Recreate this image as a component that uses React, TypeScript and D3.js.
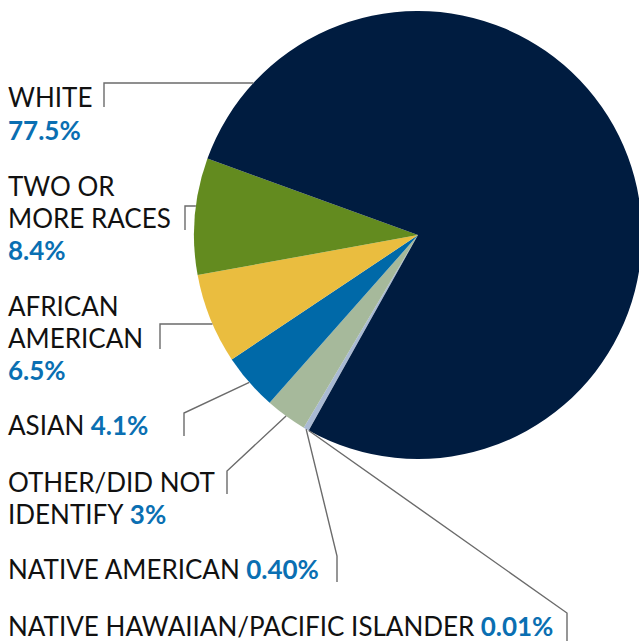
import React from "react";
import * as d3 from "d3";

const categories = [
  "NATIVE HAWAIIAN/PACIFIC ISLANDER",
  "NATIVE AMERICAN",
  "OTHER/DID NOT IDENTIFY",
  "ASIAN",
  "AFRICAN AMERICAN",
  "TWO OR MORE RACES",
  "WHITE",
];
const values = [0.01, 0.4, 3, 4.1, 6.5, 8.4, 77.5];
const valueLabels = ["0.01%", "0.40%", "3%", "4.1%", "6.5%", "8.4%", "77.5%"];
const colors = ["#f3e3a6", "#a9bad3", "#a6b99b", "#0069a8", "#eabd3f", "#638b1f", "#001c40"];

// label layout: text lines (last line gets the value appended or on own line)
type Layout = {
  lines: string[];
  valueOnOwnLine: boolean;
  baseline: number;
  elbowX: number;
  elbowY: number;
  endY: number;
  mode: "horizontal" | "centroid";
};
const layouts: Layout[] = [
  { lines: ["NATIVE HAWAIIAN/PACIFIC ISLANDER"], valueOnOwnLine: false, baseline: 636, elbowX: 567, elbowY: 613, endY: 641, mode: "centroid" },
  { lines: ["NATIVE AMERICAN"], valueOnOwnLine: false, baseline: 579, elbowX: 337, elbowY: 556, endY: 582, mode: "centroid" },
  { lines: ["OTHER/DID NOT", "IDENTIFY"], valueOnOwnLine: false, baseline: 492, elbowX: 227, elbowY: 471, endY: 494, mode: "centroid" },
  { lines: ["ASIAN"], valueOnOwnLine: false, baseline: 435, elbowX: 184, elbowY: 413, endY: 436, mode: "centroid" },
  { lines: ["AFRICAN", "AMERICAN"], valueOnOwnLine: true, baseline: 316, elbowX: 160, elbowY: 324, endY: 349, mode: "horizontal" },
  { lines: ["TWO OR", "MORE RACES"], valueOnOwnLine: true, baseline: 196, elbowX: 185, elbowY: 206, endY: 230, mode: "horizontal" },
  { lines: ["WHITE"], valueOnOwnLine: true, baseline: 107, elbowX: 104, elbowY: 83, endY: 107, mode: "horizontal" },
];

const W = 639;
const H = 641;
const cx = 418;
const cy = 235;
const R = 224;
const lineH = 31.5;
const startDeg = 209.2;

export default function App() {
  const pie = d3
    .pie<number>()
    .sort(null)
    .value((d) => d)
    .startAngle((startDeg * Math.PI) / 180)
    .endAngle(((startDeg + 360) * Math.PI) / 180);
  const arcs = pie(values);
  const arc = d3.arc<d3.PieArcDatum<number>>().innerRadius(0).outerRadius(R);

  const font = "Lato, 'Noto Sans', sans-serif";

  return (
    <svg
      width={W}
      height={H}
      style={{ position: "absolute", left: 0, top: 0, background: "#fff" }}
    >
      <g transform={`translate(${cx},${cy})`}>
        {arcs.map((a, i) => (
          <path key={i} d={arc(a) || ""} fill={colors[i]} />
        ))}
      </g>
      {arcs.map((a, i) => {
        const L = layouts[i];
        let sx: number, sy: number;
        if (L.mode === "horizontal") {
          const dy = L.elbowY - cy;
          sx = cx - Math.sqrt(R * R - dy * dy);
          sy = L.elbowY;
        } else {
          const ang = (a.startAngle + a.endAngle) / 2;
          sx = cx + Math.sin(ang) * R;
          sy = cy - Math.cos(ang) * R;
        }
        return (
          <polyline
            key={"l" + i}
            points={`${sx},${sy} ${L.elbowX},${L.elbowY} ${L.elbowX},${L.endY}`}
            fill="none"
            stroke="#6b6b6b"
            strokeWidth={1.4}
          />
        );
      })}
      {layouts.map((L, i) => {
        const n = L.lines.length;
        return (
          <text
            key={"t" + i}
            x={8}
            y={L.baseline}
            fontFamily={font}
            fontSize={26}
            fill="#111"
          >
            {L.lines.map((ln, j) => (
              <tspan key={j} x={8} dy={j === 0 ? 0 : lineH}>
                {ln}
                {!L.valueOnOwnLine && j === n - 1 ? (
                  <tspan fill="#0a6fb2" fontWeight="bold">{" " + valueLabels[i]}</tspan>
                ) : null}
              </tspan>
            ))}
            {L.valueOnOwnLine ? (
              <tspan x={8} dy={lineH + 1} fill="#0a6fb2" fontWeight="bold">
                {valueLabels[i]}
              </tspan>
            ) : null}
          </text>
        );
      })}
    </svg>
  );
}
